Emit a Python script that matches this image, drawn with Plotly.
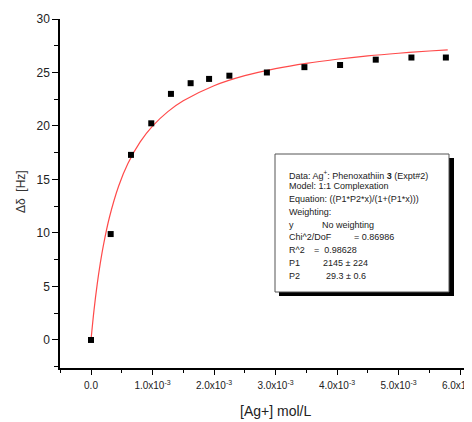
import numpy as np
import plotly.graph_objects as go

# ---- data ----
conc = [0.0, 0.32e-3, 0.65e-3, 0.98e-3, 1.30e-3, 1.62e-3, 1.92e-3, 2.25e-3,
        2.86e-3, 3.47e-3, 4.05e-3, 4.63e-3, 5.21e-3, 5.77e-3]
shift = [0.0, 9.9, 17.3, 20.25, 23.0, 24.0, 24.4, 24.7,
         25.0, 25.5, 25.7, 26.2, 26.4, 26.4]

fit_x = [0.0, 0.05e-3, 0.1e-3, 0.15e-3, 0.2e-3, 0.3e-3, 0.45e-3, 0.6e-3, 0.8e-3,
         1.0e-3, 1.25e-3, 1.5e-3, 2.0e-3, 2.5e-3, 3.0e-3, 3.5e-3, 4.0e-3,
         4.5e-3, 5.0e-3, 5.5e-3, 5.8e-3]
fit_y = [0.0, 2.84, 5.17, 7.13, 8.80, 11.47, 14.39, 16.49, 18.51,
         19.98, 21.34, 22.35, 23.76, 24.70, 25.36, 25.86, 26.24,
         26.55, 26.80, 27.01, 27.12]

x_tickvals = [0.0, 1e-3, 2e-3, 3e-3, 4e-3, 5e-3, 6e-3]
x_ticktext = ["0.0", "1.0x10<sup>-3</sup>", "2.0x10<sup>-3</sup>", "3.0x10<sup>-3</sup>",
              "4.0x10<sup>-3</sup>", "5.0x10<sup>-3</sup>", "6.0x10<sup>-3</sup>"]
y_tickvals = [0, 5, 10, 15, 20, 25, 30]

box_lines = [
    "Data: Ag<sup>+</sup>: Phenoxathiin <b>3</b> (Expt#2)",
    "Model: 1:1 Complexation",
    "Equation: ((P1*P2*x)/(1+(P1*x)))",
    "Weighting:",
    "y",
    "Chi^2/DoF",
    "R^2",
    "P1",
    "P2",
]
box_values = ["", "", "", "", "No weighting", "= 0.86986", "=  0.98628",
              "2145 ± 224", "29.3 ± 0.6"]

# ---- layout geometry (page pixels; page body has an 8px margin) ----
OFF = 8
W, H = 472 - OFF, 422 - OFF
L, R, T, B = 60, 472, 19, 368


def px(xp):
    return (xp - L) / (R - L)


def py(yp):
    return (B - yp) / (B - T)


FONT = "Liberation Sans, Arial, sans-serif"

fig = go.Figure()
fig.add_trace(go.Scatter(x=fit_x, y=fit_y, mode="lines", line=dict(color="#ff4a4a", width=1.2, shape="spline"),
                         hoverinfo="skip", showlegend=False))
fig.add_trace(go.Scatter(x=conc, y=shift, mode="markers",
                         marker=dict(symbol="square", size=6, color="black"), showlegend=False))

fig.update_layout(
    width=W, height=H,
    margin=dict(l=L - OFF, r=0, t=T - OFF, b=422 - B, pad=0, autoexpand=False),
    paper_bgcolor="white", plot_bgcolor="white",
    font=dict(family=FONT, color="#222"),
    showlegend=False,
)
fig.update_xaxes(
    range=[-0.000504, 0.006195], showgrid=False, zeroline=False, automargin=False,
    showline=True, linecolor="black", linewidth=1.5,
    tickmode="array", tickvals=x_tickvals, ticktext=x_ticktext,
    ticks="outside", ticklen=5, tickwidth=1.2, tickcolor="black",
    ticklabeloverflow="allow", ticklabelstandoff=2,
    tickfont=dict(size=10, color="#222", family=FONT),
    minor=dict(tickvals=list(np.arange(-0.0005, 0.0062, 0.0005)), ticks="outside", ticklen=3,
               tickwidth=1.2, tickcolor="black", showgrid=False),
)
fig.update_yaxes(
    range=[-2.62, 30], showgrid=False, zeroline=False, automargin=False,
    showline=True, linecolor="black", linewidth=1.5,
    tickmode="array", tickvals=y_tickvals,
    ticks="outside", ticklen=6, tickwidth=1.2, tickcolor="black",
    tickfont=dict(size=12, color="#222", family=FONT),
    minor=dict(tickvals=list(np.arange(-2.5, 30, 2.5)), ticks="outside", ticklen=4,
               tickwidth=1.2, tickcolor="black", showgrid=False),
)

# text box with shadow
fig.add_shape(type="rect", xref="paper", yref="paper", x0=px(279), x1=px(454), y0=py(296), y1=py(158),
              fillcolor="black", line=dict(width=0), layer="above")
fig.add_shape(type="rect", xref="paper", yref="paper", x0=px(275), x1=px(449), y0=py(292), y1=py(154),
              fillcolor="white", line=dict(color="#555", width=1), layer="above")

line_y = [175, 186, 199, 212, 225, 237, 249.5, 262.5, 276]
val_x = [None, None, None, None, 320, 352, 311.5, 321, 324]
for i, txt in enumerate(box_lines):
    fig.add_annotation(xref="paper", yref="paper", x=px(287), y=py(line_y[i]), text=txt,
                       showarrow=False, xanchor="left", yanchor="middle",
                       font=dict(size=9, color="#222", family=FONT))
    if box_values[i]:
        fig.add_annotation(xref="paper", yref="paper", x=px(val_x[i]), y=py(line_y[i]), text=box_values[i],
                           showarrow=False, xanchor="left", yanchor="middle",
                           font=dict(size=9, color="#222", family=FONT))

# axis titles
fig.add_annotation(xref="paper", yref="paper", x=px(275), y=py(411), text="[Ag+] mol/L",
                   showarrow=False, xanchor="center", yanchor="middle",
                   font=dict(size=14, color="#222", family=FONT))
fig.add_annotation(xref="paper", yref="paper", x=px(21), y=py(192), text="Δδ  [Hz]", textangle=-90,
                   showarrow=False, xanchor="center", yanchor="middle",
                   font=dict(size=12, color="#333", family=FONT))

fig.write_html("out.html")
